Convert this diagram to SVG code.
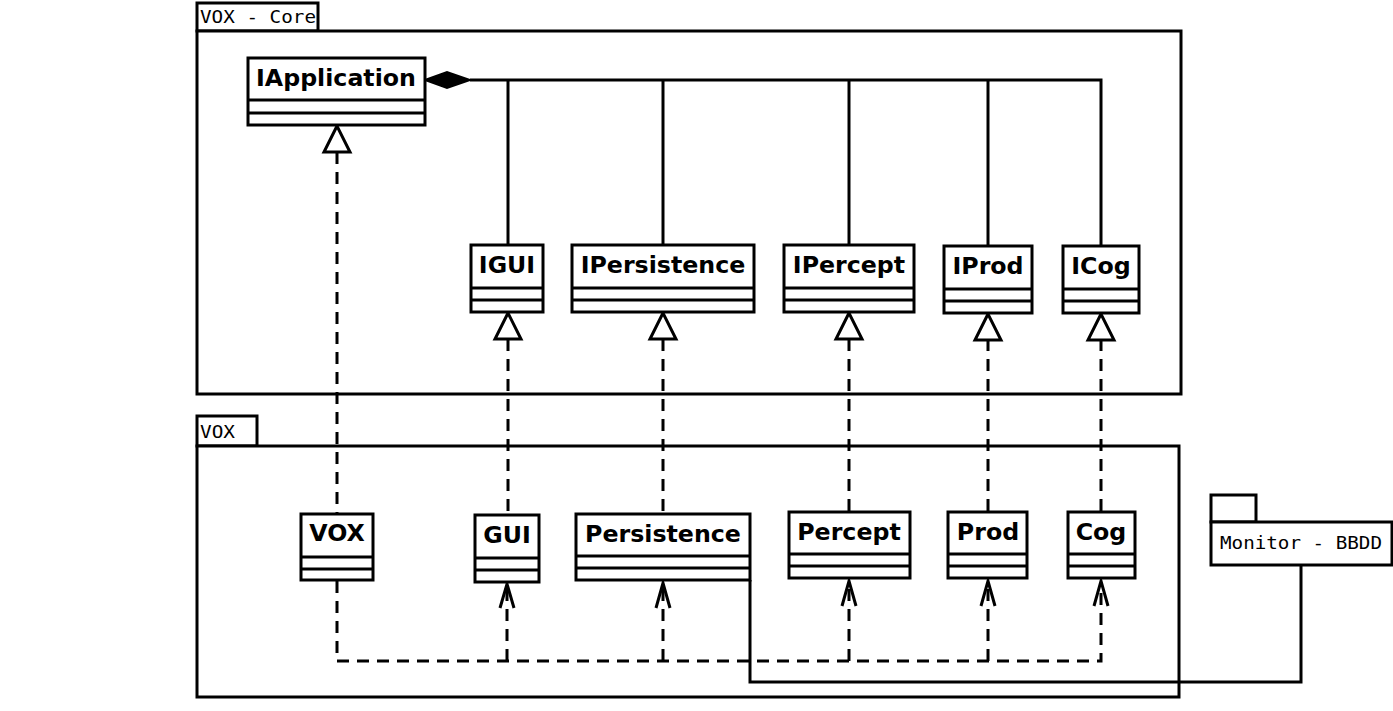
<svg xmlns="http://www.w3.org/2000/svg" width="1393" height="711" viewBox="0 0 1393 711">
<style>
.pk{fill:#fff;stroke:#000;stroke-width:3}
.cb{fill:#fff;stroke:#000;stroke-width:3}
.ln{fill:none;stroke:#000;stroke-width:3}
.dl{fill:none;stroke:#000;stroke-width:3;stroke-dasharray:12 8}
.cn{font-family:"DejaVu Sans",sans-serif;font-weight:bold;font-size:23.7px;text-anchor:middle;fill:#000}
.pt{font-family:"DejaVu Sans Mono",monospace;font-size:17.5px;fill:#000}
.tri{fill:#fff;stroke:#000;stroke-width:3}
.oa{fill:none;stroke:#000;stroke-width:3}
</style>
<rect width="1393" height="711" fill="#fff"/>
<g id="pkg-core">
<rect class="pk" x="197" y="3" width="121" height="28"/>
<rect class="pk" x="197" y="31" width="984" height="363"/>
<text class="pt" x="200" y="23" textLength="116" lengthAdjust="spacingAndGlyphs">VOX - Core</text>
</g>
<g id="pkg-vox">
<rect class="pk" x="197" y="416" width="60" height="30"/>
<rect class="pk" x="197" y="446" width="982" height="251"/>
<text class="pt" x="200" y="438" textLength="35" lengthAdjust="spacingAndGlyphs">VOX</text>
</g>
<g id="pkg-monitor">
<rect class="pk" x="1211" y="495" width="45" height="27"/>
<rect class="pk" x="1211" y="522" width="181" height="43"/>
<text class="pt" x="1220" y="549" textLength="162" lengthAdjust="spacingAndGlyphs">Monitor - BBDD</text>
</g>
<g id="connectors">
<polyline class="ln" points="470,80 1101,80 1101,245"/>
<line class="ln" x1="508" y1="80" x2="508" y2="245"/>
<line class="ln" x1="663" y1="80" x2="663" y2="245"/>
<line class="ln" x1="849" y1="80" x2="849" y2="245"/>
<line class="ln" x1="988" y1="80" x2="988" y2="245"/>
<polygon points="425,80 447,72 470,80 447,88" fill="#000" stroke="#000" stroke-width="2"/>
<line class="dl" x1="337" y1="152" x2="337" y2="514"/>
<polygon class="tri" points="337,126 324,152 350,152"/>
<line class="dl" x1="508" y1="339" x2="508" y2="515"/>
<polygon class="tri" points="508,313 495,339 521,339"/>
<line class="dl" x1="663" y1="339" x2="663" y2="514"/>
<polygon class="tri" points="663,313 650,339 676,339"/>
<line class="dl" x1="849" y1="339" x2="849" y2="512"/>
<polygon class="tri" points="849,313 836,339 862,339"/>
<line class="dl" x1="988" y1="339" x2="988" y2="512"/>
<polygon class="tri" points="988,314 975,340 1001,340"/>
<line class="dl" x1="1101" y1="339" x2="1101" y2="512"/>
<polygon class="tri" points="1101,314 1088,340 1114,340"/>
<polyline class="dl" points="337,581 337,661 1101,661 1101,585"/>
<line class="dl" x1="507" y1="661" x2="507" y2="585"/>
<line class="dl" x1="663" y1="661" x2="663" y2="583"/>
<line class="dl" x1="849" y1="661" x2="849" y2="581"/>
<line class="dl" x1="988" y1="661" x2="988" y2="581"/>
<polyline class="oa" points="500,608 507,584 514,608"/>
<polyline class="oa" points="656,608 663,583 670,608"/>
<polyline class="oa" points="842,606 849,581 856,606"/>
<polyline class="oa" points="981,606 988,581 995,606"/>
<polyline class="oa" points="1094,606 1101,581 1108,606"/>
<polyline class="ln" points="750,580 750,682 1301,682 1301,565"/>
</g>
<g id="IApplication">
<rect class="cb" x="248" y="58" width="177" height="67"/>
<line class="ln" x1="248" y1="100" x2="425" y2="100"/>
<line class="ln" x1="248" y1="113" x2="425" y2="113"/>
<text class="cn" x="336" y="86">IApplication</text>
</g>
<g id="IGUI">
<rect class="cb" x="471" y="245" width="72" height="67"/>
<line class="ln" x1="471" y1="288" x2="543" y2="288"/>
<line class="ln" x1="471" y1="300" x2="543" y2="300"/>
<text class="cn" x="507" y="273">IGUI</text>
</g>
<g id="IPersistence">
<rect class="cb" x="572" y="245" width="182" height="67"/>
<line class="ln" x1="572" y1="288" x2="754" y2="288"/>
<line class="ln" x1="572" y1="300" x2="754" y2="300"/>
<text class="cn" x="663" y="273">IPersistence</text>
</g>
<g id="IPercept">
<rect class="cb" x="784" y="245" width="130" height="67"/>
<line class="ln" x1="784" y1="288" x2="914" y2="288"/>
<line class="ln" x1="784" y1="300" x2="914" y2="300"/>
<text class="cn" x="849" y="273">IPercept</text>
</g>
<g id="IProd">
<rect class="cb" x="944" y="246" width="88" height="67"/>
<line class="ln" x1="944" y1="289" x2="1032" y2="289"/>
<line class="ln" x1="944" y1="301" x2="1032" y2="301"/>
<text class="cn" x="988" y="274">IProd</text>
</g>
<g id="ICog">
<rect class="cb" x="1063" y="246" width="76" height="67"/>
<line class="ln" x1="1063" y1="289" x2="1139" y2="289"/>
<line class="ln" x1="1063" y1="301" x2="1139" y2="301"/>
<text class="cn" x="1101" y="274">ICog</text>
</g>
<g id="VOX">
<rect class="cb" x="301" y="514" width="72" height="66"/>
<line class="ln" x1="301" y1="557" x2="373" y2="557"/>
<line class="ln" x1="301" y1="569" x2="373" y2="569"/>
<text class="cn" x="337" y="541">VOX</text>
</g>
<g id="GUI">
<rect class="cb" x="475" y="515" width="64" height="67"/>
<line class="ln" x1="475" y1="558" x2="539" y2="558"/>
<line class="ln" x1="475" y1="570" x2="539" y2="570"/>
<text class="cn" x="507" y="543">GUI</text>
</g>
<g id="Persistence">
<rect class="cb" x="576" y="514" width="174" height="66"/>
<line class="ln" x1="576" y1="556" x2="750" y2="556"/>
<line class="ln" x1="576" y1="568" x2="750" y2="568"/>
<text class="cn" x="663" y="542">Persistence</text>
</g>
<g id="Percept">
<rect class="cb" x="789" y="512" width="121" height="66"/>
<line class="ln" x1="789" y1="554" x2="910" y2="554"/>
<line class="ln" x1="789" y1="566" x2="910" y2="566"/>
<text class="cn" x="849" y="540">Percept</text>
</g>
<g id="Prod">
<rect class="cb" x="948" y="512" width="79" height="66"/>
<line class="ln" x1="948" y1="554" x2="1027" y2="554"/>
<line class="ln" x1="948" y1="566" x2="1027" y2="566"/>
<text class="cn" x="988" y="540">Prod</text>
</g>
<g id="Cog">
<rect class="cb" x="1068" y="512" width="67" height="66"/>
<line class="ln" x1="1068" y1="554" x2="1135" y2="554"/>
<line class="ln" x1="1068" y1="566" x2="1135" y2="566"/>
<text class="cn" x="1101" y="540">Cog</text>
</g>
</svg>
